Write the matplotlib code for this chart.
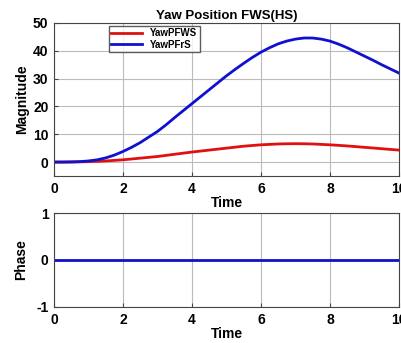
import matplotlib.pyplot as plt

plt.rcParams['font.family'] = ['Liberation Sans', 'DejaVu Sans']
plt.rcParams['font.weight'] = 'bold'
plt.rcParams['axes.unicode_minus'] = False

# time samples
t = [0, 0.25, 0.5, 0.75, 1, 1.25, 1.5, 1.75, 2, 2.25, 2.5, 2.75, 3, 3.25, 3.5, 3.75,
     4, 4.25, 4.5, 4.75, 5, 5.25, 5.5, 5.75, 6, 6.25, 6.5, 6.75, 7, 7.25, 7.5, 7.75,
     8, 8.25, 8.5, 8.75, 9, 9.25, 9.5, 9.75, 10]
# magnitude curves
yaw_pfws = [0, 0, 0.02, 0.07, 0.15, 0.25, 0.4, 0.6, 0.8, 1.1, 1.4, 1.7, 2.0, 2.4, 2.8, 3.2,
            3.6, 3.95, 4.3, 4.65, 5.0, 5.35, 5.7, 5.95, 6.2, 6.35, 6.5, 6.57, 6.6, 6.57, 6.5, 6.35,
            6.2, 6.0, 5.8, 5.55, 5.3, 5.05, 4.8, 4.55, 4.3]
yaw_pfrs = [0, 0, 0.05, 0.15, 0.4, 0.8, 1.5, 2.5, 3.8, 5.3, 7.0, 9.0, 11.0, 13.4, 16.0, 18.5,
            21.0, 23.5, 26.0, 28.5, 31.0, 33.3, 35.5, 37.6, 39.5, 41.1, 42.5, 43.5, 44.2, 44.6, 44.6, 44.2,
            43.5, 42.4, 41.1, 39.6, 38.1, 36.6, 35.0, 33.5, 32.0]
phase = [0] * len(t)

xticks = [0, 2, 4, 6, 8, 10]

fig = plt.figure(figsize=(4.01, 3.43), dpi=100)
ax1 = fig.add_axes([0.1347, 0.487, 0.860, 0.446])
ax2 = fig.add_axes([0.1347, 0.105, 0.860, 0.274])

ax1.plot(t, yaw_pfws, color='#e01010', lw=2, label='YawPFWS')
ax1.plot(t, yaw_pfrs, color='#1010d0', lw=2, label='YawPFrS')
ax1.set_xlim(0, 10)
ax1.set_ylim(-5, 50)
ax1.set_yticks([0, 10, 20, 30, 40, 50])
ax1.set_xticks(xticks)
ax1.set_title('Yaw Position FWS(HS)', fontsize=9.5, fontweight='bold', pad=3)
ax1.set_xlabel('Time', fontsize=10, fontweight='bold', labelpad=0)
ax1.set_ylabel('Magnitude', fontsize=10, fontweight='bold', labelpad=3)
leg = ax1.legend(loc='upper left', bbox_to_anchor=(0.15, 1.0), fontsize=7,
                 frameon=True, fancybox=False, edgecolor='#333333',
                 borderpad=0.25, handlelength=3.2, labelspacing=0.15, borderaxespad=0.3)
for txt in leg.get_texts():
    txt.set_fontweight('bold')

ax2.plot(t, phase, color='#1010d0', lw=2)
ax2.set_xlim(0, 10)
ax2.set_ylim(-1, 1)
ax2.set_yticks([-1, 0, 1])
ax2.set_xticks(xticks)
ax2.set_xlabel('Time', fontsize=10, fontweight='bold', labelpad=0)
ax2.set_ylabel('Phase', fontsize=10, fontweight='bold', labelpad=6)

for ax in (ax1, ax2):
    ax.grid(True, color='#bbbbbb', lw=0.8)
    ax.tick_params(direction='in', labelsize=10, length=3, pad=4, color='#444444')
    for lbl in ax.get_xticklabels() + ax.get_yticklabels():
        lbl.set_fontweight('bold')
    for sp in ax.spines.values():
        sp.set_color('#444444')
        sp.set_linewidth(0.8)

fig.savefig('out.png', dpi=100)
